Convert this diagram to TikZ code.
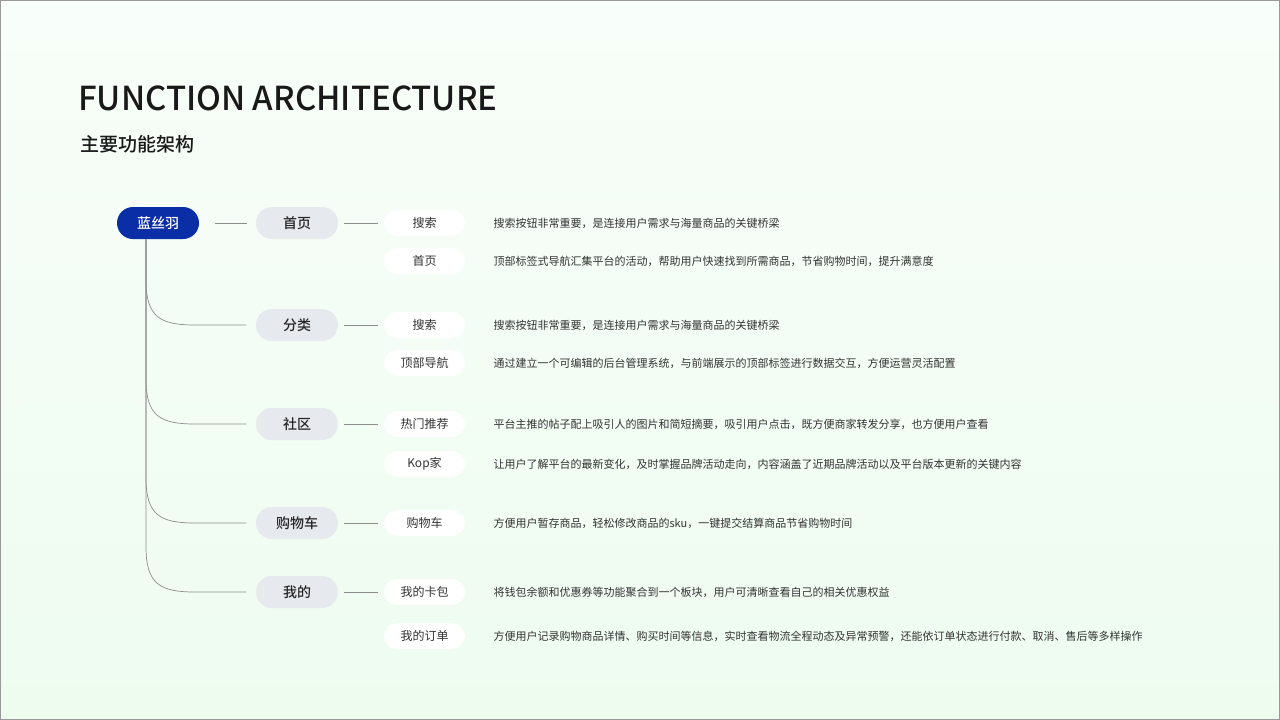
\documentclass[tikz,border=0pt]{standalone}
\usepackage{fontspec}
\setmainfont{Noto Sans CJK SC}
\newfontfamily\cjkb{Noto Sans CJK SC}[UprightFont=* Medium]
\begin{document}
\begin{tikzpicture}[x=1pt,y=-1pt,
 rootbox/.style={fill=blue!60!black!90!cyan,fill=rootc,rounded corners=16pt,minimum width=82pt,minimum height=32pt,text=white,font=\cjkb\fontsize{14}{16}\selectfont},
 lonebox/.style={fill=lone,rounded corners=16pt,minimum width=82pt,minimum height=32pt,font=\cjkb\fontsize{14}{16}\selectfont,text=black!85},
 ltwobox/.style={fill=white,rounded corners=13pt,minimum width=81pt,minimum height=26pt,font=\fontsize{12}{14}\selectfont,text=black!80},
 desc/.style={anchor=west,font=\fontsize{11}{13}\selectfont,text=black!80},
 conn/.style={draw=black!45,line width=0.7pt}]
\definecolor{rootc}{HTML}{0A2EA6}
\definecolor{lone}{HTML}{E6E9EE}
\definecolor{bgA}{HTML}{EEFCF0}
\shade[left color=white!60!bgA, right color=bgA,shading angle=0] (0,0) rectangle (1280,720);
\shade[top color=bgA!0!white,bottom color=white,opacity=0.0] (0,0) rectangle (1280,720);
\useasboundingbox (0,0) rectangle (1280,720);
\draw[black!40,line width=0.8pt] (0.4,0.4) rectangle (1279.6,719.6);
\node[anchor=west,font=\cjkb\fontsize{33}{36}\selectfont,text=black!90,inner sep=0] (title) at (78,98) {FUNCTION ARCHITECTURE};
\node[anchor=west,font=\cjkb\fontsize{19}{22}\selectfont,text=black!90,inner sep=0] (sub) at (80,144) {主要功能架构};
\node[rootbox] (root) at (158,223) {蓝丝羽};
\foreach \n/\t/\y in {a/首页/223,b/分类/325,c/社区/424,d/购物车/523,e/我的/592}
  \node[lonebox] (\n) at (297,\y) {\t};
\draw[conn] (215,223) -- (247,223);
\coordinate (tr) at (146,239);
\foreach \n/\y in {b/325,c/424,d/523,e/592}
  \draw[conn] (tr) -- (146,\y-45) .. controls (146,\y-8) and (160,\y) .. (195,\y) -- (246,\y);
\foreach \n/\p/\t/\y/\d in {
 a1/a/搜索/223/搜索按钮非常重要，是连接用户需求与海量商品的关键桥梁,
 a2/a/首页/261/顶部标签式导航汇集平台的活动，帮助用户快速找到所需商品，节省购物时间，提升满意度,
 b1/b/搜索/325/搜索按钮非常重要，是连接用户需求与海量商品的关键桥梁,
 b2/b/顶部导航/363/通过建立一个可编辑的后台管理系统，与前端展示的顶部标签进行数据交互，方便运营灵活配置,
 c1/c/热门推荐/424/平台主推的帖子配上吸引人的图片和简短摘要，吸引用户点击，既方便商家转发分享，也方便用户查看,
 c2/c/Kop家/464/让用户了解平台的最新变化，及时掌握品牌活动走向，内容涵盖了近期品牌活动以及平台版本更新的关键内容,
 d1/d/购物车/523/方便用户暂存商品，轻松修改商品的sku，一键提交结算商品节省购物时间,
 e1/e/我的卡包/592/将钱包余额和优惠券等功能聚合到一个板块，用户可清晰查看自己的相关优惠权益,
 e2/e/我的订单/636/方便用户记录购物商品详情、购买时间等信息，实时查看物流全程动态及异常预警，还能依订单状态进行付款、取消、售后等多样操作}
 {\node[ltwobox] (\n) at (424.5,\y) {\t};
  \node[desc] (\n d) at (490,\y) {\d};}
\foreach \p/\q in {a/a1,b/b1,c/c1,d/d1,e/e1}
  \draw[conn] (\p.east)++(6,0) -- ([xshift=-6pt]\q.west);
\end{tikzpicture}
\end{document}
